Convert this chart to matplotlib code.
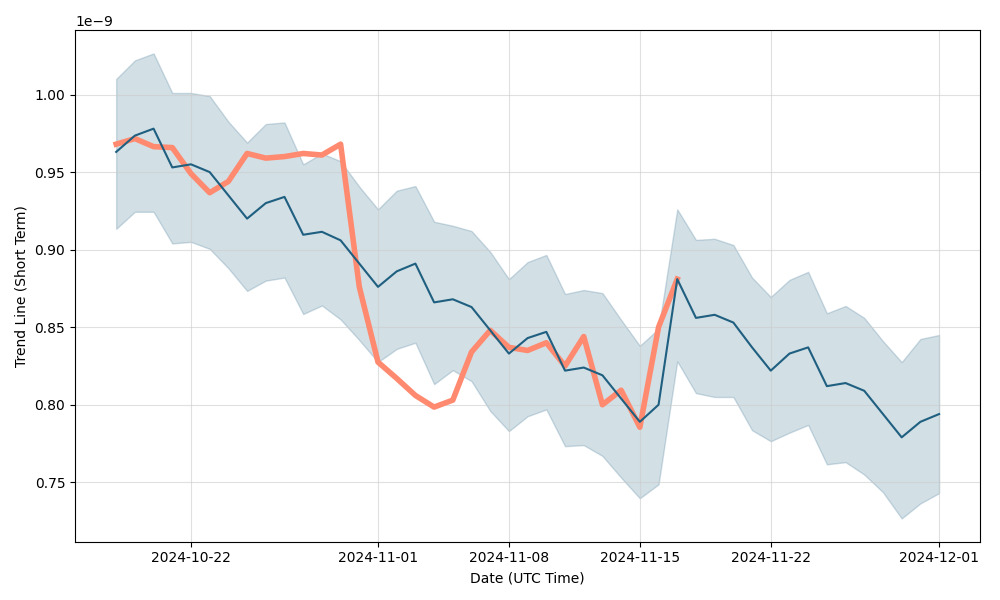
import numpy as np
import pandas as pd
import matplotlib
matplotlib.use("Agg")
import matplotlib.pyplot as plt
import matplotlib.dates as mdates

# daily values, 2024-10-18 .. 2024-12-01
dates = pd.date_range("2024-10-18", "2024-12-01", freq="D")

trend = [0.963, 0.9735, 0.978, 0.953, 0.955, 0.950, 0.935, 0.920, 0.930, 0.934,
         0.9096, 0.9115, 0.906, 0.891, 0.876, 0.886, 0.891, 0.866, 0.868, 0.863,
         0.848, 0.833, 0.843, 0.847, 0.822, 0.824, 0.819, 0.804, 0.789, 0.800,
         0.881, 0.856, 0.858, 0.853, 0.837, 0.822, 0.833, 0.837, 0.812, 0.814,
         0.809, 0.794, 0.779, 0.789, 0.794]

upper = [1.010, 1.022, 1.0265, 1.001, 1.001, 0.999, 0.9825, 0.969, 0.981, 0.982,
         0.955, 0.962, 0.957, 0.9406, 0.926, 0.938, 0.941, 0.918, 0.9154, 0.912,
         0.8986, 0.881, 0.892, 0.8966, 0.8714, 0.874, 0.872, 0.8547, 0.838, 0.849,
         0.926, 0.9063, 0.907, 0.903, 0.882, 0.8695, 0.8805, 0.8857, 0.859, 0.8637,
         0.856, 0.841, 0.8275, 0.8424, 0.845]

lower = [0.9134, 0.9244, 0.9244, 0.904, 0.905, 0.9005, 0.888, 0.8734, 0.880, 0.882,
         0.8585, 0.864, 0.855, 0.8417, 0.8275, 0.836, 0.840, 0.8133, 0.8223, 0.8152,
         0.796, 0.783, 0.7926, 0.797, 0.7733, 0.774, 0.767, 0.753, 0.7397, 0.7487,
         0.828, 0.8075, 0.805, 0.805, 0.7836, 0.7765, 0.782, 0.787, 0.7616, 0.763,
         0.755, 0.7436, 0.7267, 0.7364, 0.743]

# actual price, only up to 2024-11-17
actual = [0.968, 0.9716, 0.9664, 0.9658, 0.949, 0.9367, 0.944, 0.962, 0.959, 0.960,
          0.962, 0.961, 0.968, 0.876, 0.8275, 0.817, 0.806, 0.7985, 0.803, 0.834,
          0.848, 0.837, 0.835, 0.840, 0.825, 0.844, 0.800, 0.8094, 0.7855, 0.850,
          0.881]

scale = 1e-9
trend = np.array(trend) * scale
upper = np.array(upper) * scale
lower = np.array(lower) * scale
actual = np.array(actual) * scale

line_color = "#1f5f80"
fig, ax = plt.subplots(figsize=(10, 6), dpi=100)

ax.fill_between(dates, lower, upper, color=line_color, alpha=0.2)
# orange goes under the trend line
ax.plot(dates[:len(actual)], actual, color="#ff8a70", linewidth=4)
ax.plot(dates, trend, color=line_color, linewidth=1.5)

ax.set_xticks(pd.to_datetime(["2024-10-22", "2024-11-01", "2024-11-08",
                              "2024-11-15", "2024-11-22", "2024-12-01"]))
ax.xaxis.set_major_formatter(mdates.DateFormatter("%Y-%m-%d"))
ax.grid(True, color="#cccccc", alpha=0.6)
ax.set_xlabel("Date (UTC Time)")
ax.set_ylabel("Trend Line (Short Term)")

plt.tight_layout()
plt.savefig("out.png")
